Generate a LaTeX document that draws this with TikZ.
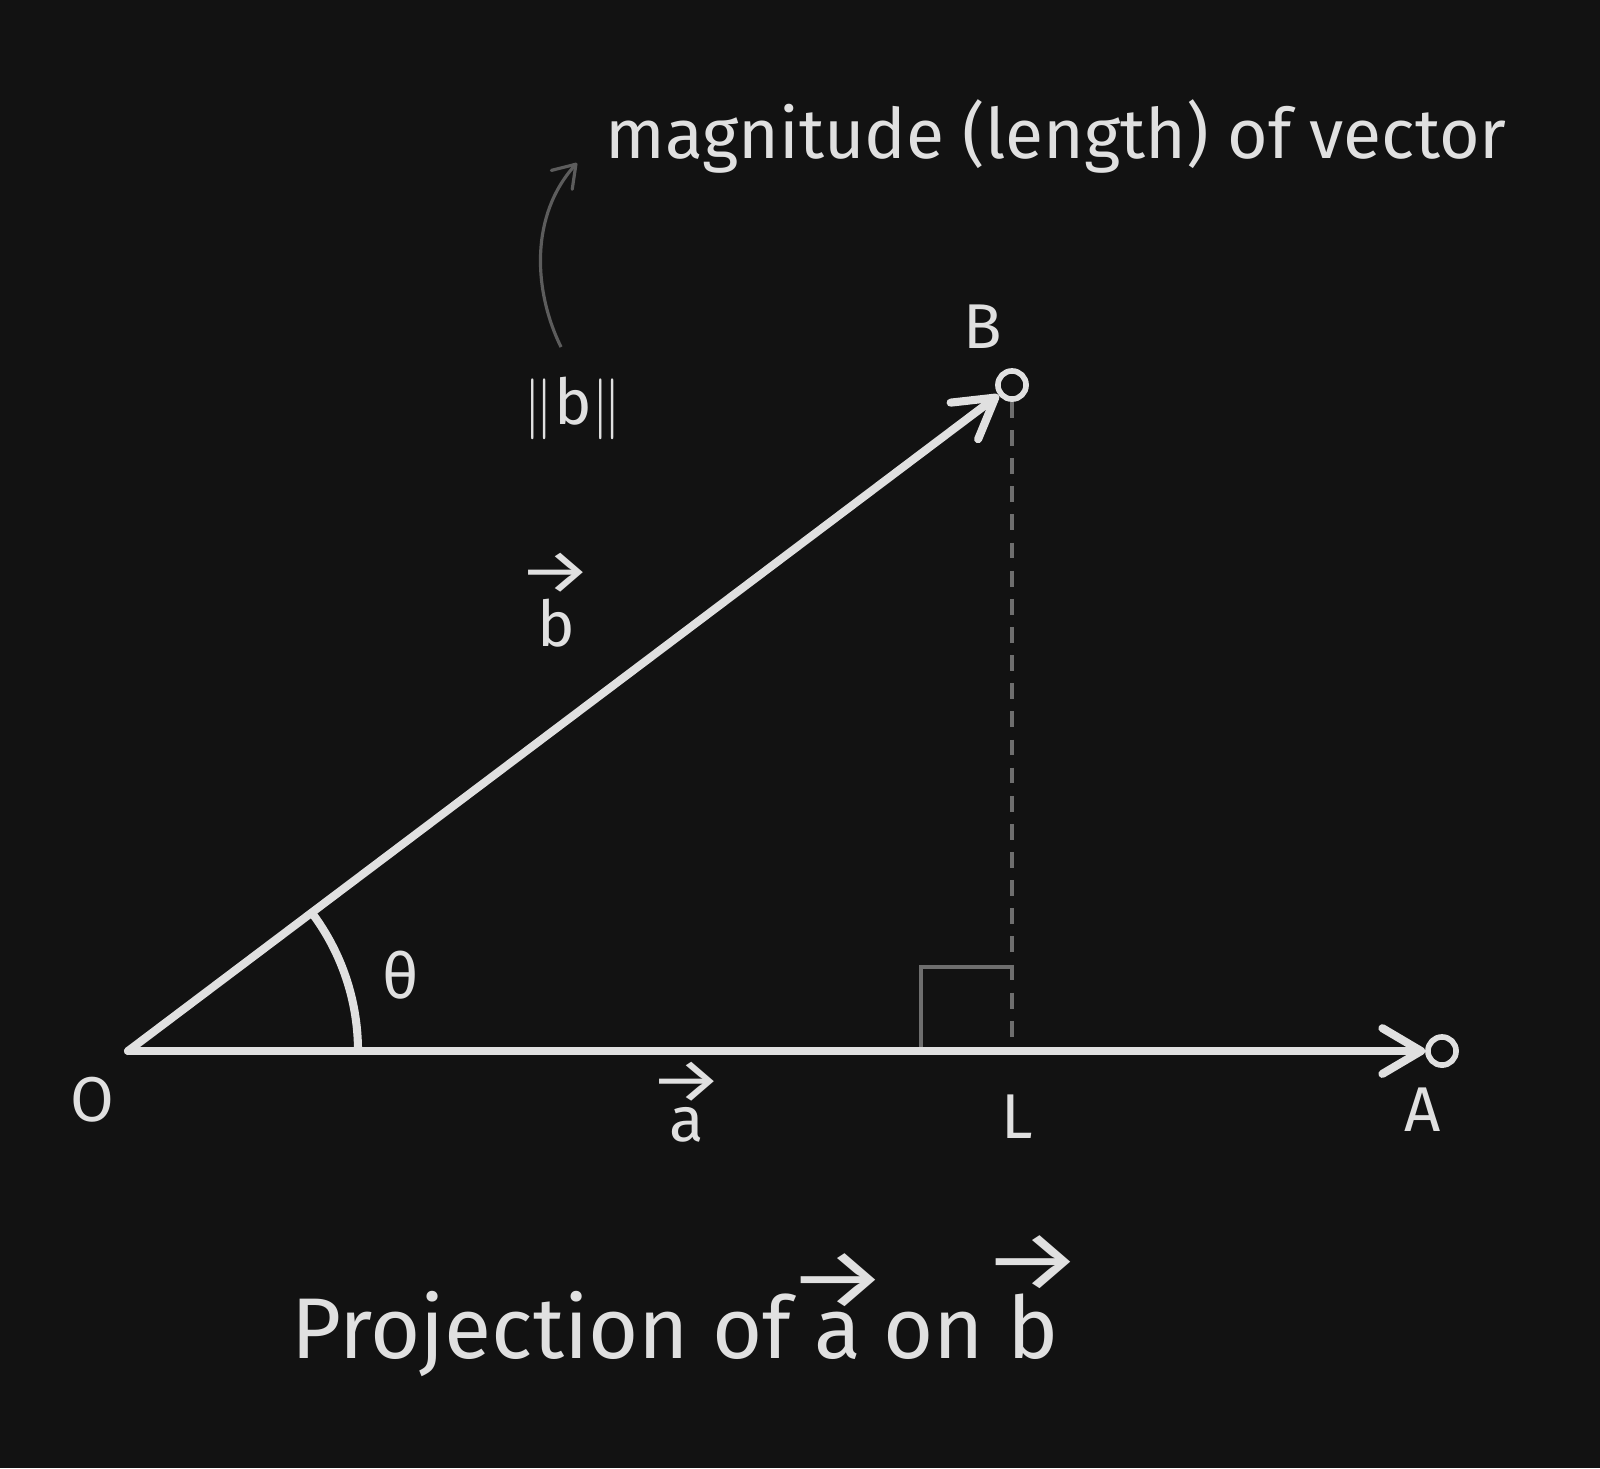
\documentclass[tikz,border=0pt]{standalone}
\usepackage{fontspec}
\usepackage{graphicx}
\setmainfont{Fira Sans}
\usetikzlibrary{arrows.meta, positioning, calc}
\definecolor{bgdark}{RGB}{18,18,18}
\definecolor{chalk}{RGB}{224,224,224}
\definecolor{dashgray}{RGB}{110,110,110}
\definecolor{notegray}{RGB}{92,92,92}
\newcommand{\vtext}[1]{\shortstack[c]{\makebox[0pt]{\smash{\raisebox{-0.08em}{\scalebox{1.3}[1]{→}}}}\\#1}}

\begin{document}
\begin{tikzpicture}[x=0.01cm, y=-0.01cm,
  vec/.style={draw=chalk, line width=2.3pt, line cap=round, -{Straight Barb[length=11pt, width=13pt, round]}},
  endpt/.style={circle, draw=chalk, fill=bgdark, line width=1.6pt, minimum size=8pt, inner sep=0pt},
  lbl/.style={text=chalk, inner sep=0pt, font=\fontsize{18}{21}\selectfont},
  perp/.style={draw=dashgray, line width=1.4pt, dash pattern=on 4.5pt off 3.5pt},
  rightmark/.style={draw=dashgray, line width=1.1pt},
  anglearc/.style={draw=chalk, line width=2.3pt},
  notearrow/.style={draw=notegray, line width=0.9pt, -{Straight Barb[length=6pt, width=8pt, round]}}
]
  \fill[bgdark] (0,0) rectangle (1600,1468);
  \useasboundingbox (0,0) rectangle (1600,1468);

  \coordinate (O) at (128,1051);
  \coordinate (L) at (1012,1051);
  \node[endpt] (A) at (1442,1051) {};
  \node[endpt] (B) at (1012,385) {};

  \draw[perp] (B.south) -- (L);
  \draw[rightmark] ($(L)+(-91,0)$) |- ($(L)+(0,-84)$);
  \draw[vec] (O) -- (A);
  \draw[vec] (O) -- (B);
  \draw[anglearc] ($(O)+(230,0)$) arc[start angle=0, end angle=-37, radius=230];

  \node[lbl] (Olbl) at (92,1100) {O};
  \node[lbl] (Albl) at (1423,1110) {A};
  \node[lbl] (Blbl) at (983,327) {B};
  \node[lbl] (Llbl) at (1017,1117) {L};
  \node[lbl] (theta) at (401,975) {θ};
  \node[lbl] (avec) at (687,1120) {\vtext{a}};
  \node[lbl] (bvec) at (556,618) {\vtext{b}};
  \node[lbl] (norm) at (573,408) {$\|\mbox{b}\|$};

  \node[lbl, anchor=west, font=\fontsize{19.8}{24}\selectfont] (magnitude) at (605,136) {magnitude (length) of vector};
  \draw[notearrow] (561,347) .. controls (533,290) and (530,215) .. (577,163);

  \node[lbl, font=\fontsize{24.5}{29}\selectfont] (title) at (675,1330) {Projection of \vtext{a} on \vtext{b}};
\end{tikzpicture}
\end{document}
